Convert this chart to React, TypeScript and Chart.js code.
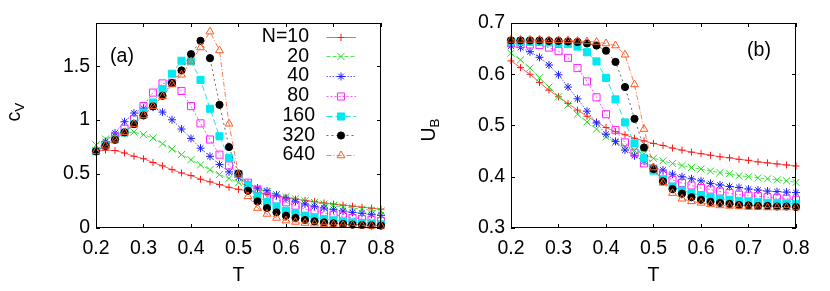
import React, { useEffect, useRef } from 'react';
import { Chart, registerables } from 'chart.js';
import { drawPoint } from 'chart.js/helpers';

Chart.register(...registerables);

const FONT = '"Liberation Sans", Arial, Helvetica, sans-serif';
const FS = 19.5;

// ---------- data ----------
const temperatures = [
  0.2, 0.22, 0.24, 0.26, 0.28, 0.3, 0.32, 0.34, 0.36, 0.38, 0.4, 0.42, 0.44, 0.46, 0.48, 0.5,
  0.52, 0.54, 0.56, 0.58, 0.6, 0.62, 0.64, 0.66, 0.68, 0.7, 0.72, 0.74, 0.76, 0.78, 0.8,
];
const seriesLabels = ['N=10', '20', '40', '80', '160', '320', '640'];

// panel (a): specific heat c_V
const cv10 = [0.713, 0.722, 0.718, 0.695, 0.665, 0.642, 0.607, 0.576, 0.541, 0.510, 0.486, 0.452, 0.428, 0.402, 0.377, 0.358, 0.345, 0.325, 0.310, 0.295, 0.282, 0.268, 0.256, 0.244, 0.232, 0.222, 0.212, 0.202, 0.193, 0.184, 0.175];
const cv20 = [0.77, 0.825, 0.86, 0.88, 0.89, 0.865, 0.835, 0.78, 0.733, 0.68, 0.633, 0.585, 0.54, 0.495, 0.46, 0.42, 0.39, 0.36, 0.335, 0.31, 0.29, 0.27, 0.252, 0.236, 0.222, 0.208, 0.196, 0.185, 0.175, 0.165, 0.157];
const cv40 = [0.72, 0.80, 0.88, 0.985, 1.065, 1.11, 1.12, 1.074, 1.003, 0.917, 0.83, 0.74, 0.664, 0.588, 0.52, 0.47, 0.41, 0.37, 0.345, 0.305, 0.272, 0.247, 0.222, 0.20, 0.185, 0.17, 0.157, 0.145, 0.136, 0.127, 0.117];
const cv80 = [0.713, 0.77, 0.846, 0.92, 1.01, 1.13, 1.255, 1.34, 1.345, 1.27, 1.13, 0.97, 0.82, 0.68, 0.58, 0.5, 0.42, 0.355, 0.293, 0.262, 0.238, 0.207, 0.176, 0.16, 0.139, 0.123, 0.108, 0.093, 0.083, 0.077, 0.065];
const cv160 = [0.713, 0.76, 0.82, 0.885, 0.965, 1.07, 1.163, 1.287, 1.43, 1.55, 1.545, 1.373, 1.105, 0.85, 0.648, 0.5, 0.395, 0.293, 0.24, 0.20, 0.16, 0.139, 0.114, 0.099, 0.083, 0.071, 0.062, 0.052, 0.046, 0.04, 0.034];
const cv320 = [0.71, 0.762, 0.818, 0.886, 0.963, 1.043, 1.127, 1.225, 1.343, 1.46, 1.611, 1.735, 1.574, 1.142, 0.75, 0.505, 0.346, 0.247, 0.185, 0.145, 0.114, 0.093, 0.074, 0.062, 0.052, 0.043, 0.037, 0.031, 0.028, 0.025, 0.022];
const cv640 = [0.71, 0.762, 0.818, 0.886, 0.963, 1.043, 1.127, 1.22, 1.33, 1.42, 1.543, 1.673, 1.82, 1.645, 0.966, 0.503, 0.293, 0.185, 0.13, 0.093, 0.068, 0.056, 0.046, 0.04, 0.034, 0.031, 0.028, 0.025, 0.022, 0.019, 0.019];

// panel (b): Binder cumulant U_B
const ub10 = [0.626, 0.613, 0.600, 0.584, 0.569, 0.556, 0.543, 0.530, 0.518, 0.507, 0.496, 0.488, 0.482, 0.475, 0.470, 0.465, 0.461, 0.456, 0.452, 0.448, 0.445, 0.442, 0.439, 0.437, 0.434, 0.432, 0.429, 0.427, 0.425, 0.423, 0.421];
const ub20 = [0.641, 0.628, 0.612, 0.593, 0.575, 0.556, 0.540, 0.522, 0.507, 0.493, 0.478, 0.467, 0.459, 0.451, 0.445, 0.436, 0.431, 0.426, 0.422, 0.418, 0.415, 0.411, 0.408, 0.406, 0.402, 0.400, 0.398, 0.396, 0.394, 0.392, 0.389];
const ub40 = [0.655, 0.652, 0.644, 0.633, 0.618, 0.599, 0.575, 0.552, 0.528, 0.505, 0.483, 0.469, 0.452, 0.441, 0.430, 0.418, 0.413, 0.405, 0.400, 0.396, 0.392, 0.387, 0.384, 0.381, 0.379, 0.376, 0.374, 0.372, 0.371, 0.370, 0.369];
const ub80 = [0.660, 0.659, 0.658, 0.657, 0.652, 0.645, 0.632, 0.612, 0.586, 0.555, 0.522, 0.491, 0.467, 0.447, 0.426, 0.415, 0.404, 0.394, 0.388, 0.383, 0.378, 0.375, 0.371, 0.368, 0.365, 0.363, 0.362, 0.360, 0.358, 0.357, 0.355];
const ub160 = [0.664, 0.664, 0.663, 0.663, 0.662, 0.661, 0.659, 0.654, 0.643, 0.625, 0.593, 0.551, 0.506, 0.465, 0.436, 0.412, 0.395, 0.381, 0.373, 0.368, 0.364, 0.360, 0.357, 0.355, 0.353, 0.352, 0.351, 0.349, 0.349, 0.348, 0.347];
const ub320 = [0.666, 0.666, 0.666, 0.666, 0.665, 0.665, 0.664, 0.663, 0.660, 0.656, 0.646, 0.624, 0.575, 0.513, 0.457, 0.415, 0.391, 0.376, 0.367, 0.360, 0.355, 0.351, 0.349, 0.347, 0.345, 0.344, 0.343, 0.343, 0.342, 0.342, 0.341];
const ub640 = [0.667, 0.667, 0.667, 0.667, 0.666, 0.666, 0.666, 0.665, 0.664, 0.663, 0.660, 0.656, 0.638, 0.580, 0.493, 0.418, 0.388, 0.368, 0.357, 0.352, 0.349, 0.346, 0.344, 0.343, 0.342, 0.341, 0.341, 0.340, 0.340, 0.340, 0.340];

// tick labels
const xTickValues = [0.2, 0.3, 0.4, 0.5, 0.6, 0.7, 0.8];
const cvTickValues = [0, 0.5, 1, 1.5];
const ubTickValues = [0.3, 0.4, 0.5, 0.6, 0.7];

// ---------- styles ----------
const seriesStyles = [
  { color: '#ff1a1a', line: 'rgba(255,40,40,0.75)', dash: [], shape: 'cross', r: 3.5, fill: false },
  { color: '#22dd22', line: 'rgba(40,220,40,0.8)', dash: [4, 2], shape: 'crossRot', r: 5, fill: false },
  { color: '#2222ff', line: 'rgba(40,40,255,0.75)', dash: [1.5, 1.5], shape: 'star', r: 4, fill: false },
  { color: '#ff22ff', line: 'rgba(255,40,255,0.8)', dash: [2, 2], shape: 'rect', r: 5, fill: false },
  { color: '#00e8f0', line: 'rgba(0,220,230,0.85)', dash: [6, 3], shape: 'rect', r: 5, fill: true },
  { color: '#000000', line: 'rgba(60,60,60,0.75)', dash: [2, 3], shape: 'circle', r: 3.6, fill: true },
  { color: '#ff5a1f', line: 'rgba(255,100,50,0.85)', dash: [5, 2, 1, 2], shape: 'triangle', r: 4.5, fill: false },
];

function makeDatasets(series: number[][]) {
  return series.map((vals, i) => {
    const s = seriesStyles[i];
    return {
      label: seriesLabels[i],
      data: temperatures.map((t, k) => ({ x: t, y: vals[k] })),
      borderColor: s.line,
      borderWidth: 1,
      borderDash: s.dash,
      pointStyle: s.shape,
      pointRadius: s.r,
      pointHoverRadius: s.r,
      pointBorderColor: s.color,
      pointBackgroundColor: s.fill ? s.color : 'rgba(0,0,0,0)',
      pointBorderWidth: 1,
      tension: 0,
      fill: false,
      clip: false,
      order: series.length - i,
    };
  });
}

const framePlugin = {
  id: 'gnuFrame',
  afterDatasetsDraw(chart: any) {
    const { ctx, chartArea: a, scales } = chart;
    const tl = 4;
    ctx.save();
    ctx.strokeStyle = '#000';
    ctx.lineWidth = 1;
    ctx.setLineDash([]);
    ctx.strokeRect(a.left + 0.5, a.top + 0.5, a.right - a.left - 1, a.bottom - a.top - 1);
    ctx.beginPath();
    for (const t of scales.x.ticks) {
      const px = Math.round(scales.x.getPixelForValue(t.value)) + 0.5;
      ctx.moveTo(px, a.bottom);
      ctx.lineTo(px, a.bottom - tl);
      ctx.moveTo(px, a.top);
      ctx.lineTo(px, a.top + tl);
    }
    for (const t of scales.y.ticks) {
      const py = Math.round(scales.y.getPixelForValue(t.value)) + 0.5;
      ctx.moveTo(a.left, py);
      ctx.lineTo(a.left + tl, py);
      ctx.moveTo(a.right, py);
      ctx.lineTo(a.right - tl, py);
    }
    ctx.stroke();
    ctx.restore();
  },
};

function makeTextPlugin(yMain: string, ySub: string, yCenter: number, tag: string, tagX: number, tagY: number, legend: boolean) {
  return {
    id: 'gnuText',
    afterDraw(chart: any) {
      const { ctx, chartArea: a } = chart;
      ctx.save();
      ctx.fillStyle = '#000';
      // x title
      ctx.font = `${FS}px ${FONT}`;
      ctx.textAlign = 'center';
      ctx.textBaseline = 'middle';
      ctx.fillText('T', (a.left + a.right) / 2, 276);
      // panel tag
      ctx.fillText(tag, tagX, tagY);
      // y title with subscript
      ctx.save();
      ctx.translate(20, yCenter);
      ctx.rotate(-Math.PI / 2);
      ctx.font = `${FS}px ${FONT}`;
      const w1 = ctx.measureText(yMain).width;
      ctx.font = `13.5px ${FONT}`;
      const w2 = ctx.measureText(ySub).width;
      const start = -(w1 + w2) / 2;
      ctx.textAlign = 'left';
      ctx.textBaseline = 'alphabetic';
      ctx.font = `${FS}px ${FONT}`;
      ctx.fillText(yMain, start, 0);
      ctx.font = `13.5px ${FONT}`;
      ctx.fillText(ySub, start + w1, 4);
      ctx.restore();

      if (legend) {
        chart.data.datasets.forEach((ds: any, i: number) => {
          const s = seriesStyles[i];
          const y = 36.7 + i * 19.7;
          const label = seriesLabels[i];
          ctx.font = `${FS}px ${FONT}`;
          ctx.textAlign = 'right';
          ctx.textBaseline = 'middle';
          ctx.fillStyle = '#000';
          const shift = label.length >= 3 && label.indexOf('=') < 0 ? 6 : 0;
          ctx.fillText(label, 309 + shift, y);
          ctx.beginPath();
          ctx.strokeStyle = s.line;
          ctx.lineWidth = 1;
          ctx.setLineDash(s.dash);
          ctx.moveTo(326.5, Math.round(y) + 0.5);
          ctx.lineTo(356, Math.round(y) + 0.5);
          ctx.stroke();
          ctx.setLineDash([]);
          ctx.strokeStyle = s.color;
          ctx.fillStyle = s.fill ? s.color : 'rgba(0,0,0,0)';
          drawPoint(ctx, { pointStyle: s.shape, radius: s.r, rotation: 0, borderWidth: 1 } as any, 341, Math.round(y) + 0.5);
        });
      }
      ctx.restore();
    },
  };
}

function buildConfig(series: number[][], yMin: number, yMax: number, yTicks: number[], text: any) {
  return {
    type: 'line' as const,
    data: { datasets: makeDatasets(series) },
    options: {
      responsive: false,
      maintainAspectRatio: false,
      animation: false as const,
      devicePixelRatio: 1,
      layout: { padding: { top: 23, right: 34, left: 0, bottom: 0 } },
      plugins: { legend: { display: false }, tooltip: { enabled: false }, title: { display: false } },
      events: [],
      scales: {
        x: {
          type: 'linear' as const,
          position: 'bottom' as const,
          min: 0.2,
          max: 0.8,
          grid: { display: false, drawTicks: false, tickLength: 0 },
          border: { display: false },
          afterBuildTicks: (s: any) => {
            s.ticks = xTickValues.map((v) => ({ value: v }));
          },
          afterFit: (s: any) => {
            s.height = 63;
          },
          ticks: {
            color: '#000',
            font: { family: FONT, size: FS },
            padding: 9,
            maxRotation: 0,
            autoSkip: false,
            callback: (v: any) => String(v),
          },
        },
        y: {
          type: 'linear' as const,
          position: 'left' as const,
          min: yMin,
          max: yMax,
          grid: { display: false, drawTicks: false, tickLength: 0 },
          border: { display: false },
          afterBuildTicks: (s: any) => {
            s.ticks = yTicks.map((v) => ({ value: v }));
          },
          afterFit: (s: any) => {
            s.width = 96;
          },
          ticks: {
            color: '#000',
            font: { family: FONT, size: FS },
            padding: 6,
            autoSkip: false,
            callback: (v: any) => String(v),
          },
        },
      },
    },
    plugins: [framePlugin, text],
  };
}

function Panel({ which }: { which: 'a' | 'b' }) {
  const ref = useRef<HTMLCanvasElement | null>(null);
  useEffect(() => {
    if (!ref.current) return;
    const cfg =
      which === 'a'
        ? buildConfig(
            [cv10, cv20, cv40, cv80, cv160, cv320, cv640],
            0,
            1.9,
            cvTickValues,
            makeTextPlugin('c', 'V', 112, '(a)', 122, 57, true)
          )
        : buildConfig(
            [ub10, ub20, ub40, ub80, ub160, ub320, ub640],
            0.3,
            0.7,
            ubTickValues,
            makeTextPlugin('U', 'B', 130, '(b)', 344, 51, false)
          );
    const chart = new Chart(ref.current, cfg as any);
    return () => chart.destroy();
  }, [which]);
  return <canvas ref={ref} width={415} height={291} style={{ width: 415, height: 291, display: 'block' }} />;
}

export default function App() {
  return (
    <div
      style={{
        position: 'absolute',
        left: 0,
        top: 0,
        width: 830,
        height: 291,
        display: 'flex',
        background: '#fff',
      }}
    >
      <Panel which="a" />
      <Panel which="b" />
    </div>
  );
}
